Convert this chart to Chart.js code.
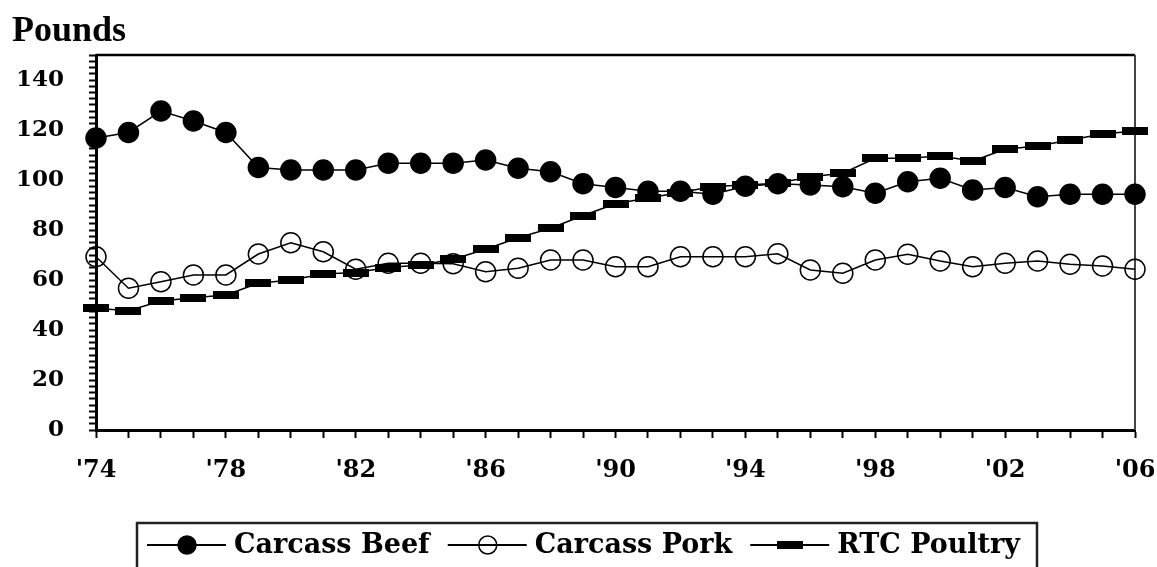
<!DOCTYPE html>
<html>
<head>
<meta charset="utf-8">
<script src="https://cdn.jsdelivr.net/npm/chart.js@4/dist/chart.umd.min.js"></script>
<style>
  html, body { margin: 0; padding: 0; background: #fff; }
  #wrap { width: 1157px; height: 567px; }
</style>
</head>
<body>
<div id="wrap"><canvas id="canvas-1" width="1157" height="567"></canvas></div>
<script>
// per capita supply, pounds
var years = [1974, 1975, 1976, 1977, 1978, 1979, 1980, 1981, 1982, 1983, 1984,
             1985, 1986, 1987, 1988, 1989, 1990, 1991, 1992, 1993, 1994, 1995,
             1996, 1997, 1998, 1999, 2000, 2001, 2002, 2003, 2004, 2005, 2006];
var beef = [116.8, 119, 127.6, 123.6, 119, 105, 104, 104, 104, 106.7, 106.7,
            106.7, 108, 104.7, 103.3, 98.5, 97, 95.5, 95.5, 94.3, 97.5, 98.5,
            98, 97.3, 94.7, 99.3, 100.7, 96, 97, 93.3, 94.3, 94.3, 94.3];
var pork = [69.3, 56.7, 59.3, 62, 62, 70.4, 74.9, 71.3, 64.3, 66.7, 66.7,
            66.5, 63.3, 64.7, 68, 68, 65.3, 65.3, 69.3, 69.3, 69.3, 70.5,
            64, 62.7, 68, 70.3, 67.6, 65.3, 66.7, 67.6, 66.3, 65.6, 64.3];
var poultry = [48.7, 47.7, 51.6, 52.9, 54, 58.7, 60, 62.4, 63, 65, 66,
               68.3, 72.3, 76.9, 80.7, 85.8, 90.5, 92.8, 95, 97.4, 98, 98.7,
               101.3, 102.7, 108.7, 108.7, 109.6, 107.6, 112.3, 113.6, 116, 118.4, 119.6];
var yLabels = [0, 20, 40, 60, 80, 100, 120, 140];

var FONT = '"DejaVu Serif", serif';

// dash marker for poultry
var dash = document.createElement('canvas');
dash.width = 26; dash.height = 8;
var dctx = dash.getContext('2d');
dctx.fillStyle = '#000';
dctx.fillRect(0, 0, 26, 8);

// box round the plot + title
var frame = {
    id: 'frame',
    beforeDatasetsDraw: function (chart) {
        var a = chart.chartArea, c = chart.ctx;
        c.save();
        c.strokeStyle = '#000';
        c.lineWidth = 2.5;
        c.beginPath();
        c.moveTo(a.left, a.top);
        c.lineTo(a.right, a.top);
        c.stroke();
        c.strokeStyle = '#444';
        c.lineWidth = 2;
        c.beginPath();
        c.moveTo(a.right, a.top);
        c.lineTo(a.right, a.bottom);
        c.stroke();
        c.restore();
    },
    afterDraw: function (chart) {
        var c = chart.ctx;
        c.save();
        c.fillStyle = '#000';
        c.font = 'bold 36px "Liberation Serif", serif';
        c.textBaseline = 'alphabetic';
        c.fillText('Pounds', 12, 41);
        c.restore();
    }
};

// legend with a box, line + marker swatches
var boxLegend = {
    id: 'boxLegend',
    afterDraw: function (chart) {
        var c = chart.ctx;
        c.save();
        c.strokeStyle = '#222';
        c.lineWidth = 2.5;
        c.strokeRect(137, 523, 900, 60);
        c.font = 'bold 27px ' + FONT;
        c.textBaseline = 'middle';
        c.fillStyle = '#000';
        var x = 147, y = 545;
        chart.data.datasets.forEach(function (ds) {
            c.strokeStyle = '#000';
            c.lineWidth = 2;
            c.beginPath();
            c.moveTo(x, y);
            c.lineTo(x + 79, y);
            c.stroke();
            var mx = x + 40;
            if (ds.pointStyle === 'circle') {
                c.beginPath();
                c.arc(mx, y, ds.pointRadius - 1, 0, Math.PI * 2);
                c.fillStyle = ds.pointBackgroundColor;
                c.fill();
                c.lineWidth = 1.5;
                c.stroke();
            } else {
                c.drawImage(ds.pointStyle, mx - 13, y - 4);
            }
            c.fillStyle = '#000';
            c.fillText(ds.label, x + 87, y + 1);
            x += 87 + c.measureText(ds.label).width + 18;
        });
        c.restore();
    }
};

var ctx = document.getElementById('canvas-1');
var chart = new Chart(ctx, {
    type: 'line',
    data: {
        labels: years,
        datasets: [
            {
                label: 'Carcass Beef',
                data: beef,
                borderColor: '#000',
                borderWidth: 1.5,
                pointStyle: 'circle',
                pointRadius: 10,
                pointBackgroundColor: '#000',
                pointBorderColor: '#000',
                clip: false
            },
            {
                label: 'Carcass Pork',
                data: pork,
                borderColor: '#000',
                borderWidth: 1.5,
                pointStyle: 'circle',
                pointRadius: 10,
                pointBorderWidth: 1.5,
                pointBackgroundColor: 'rgba(255,255,255,0)',
                pointBorderColor: '#000',
                clip: false
            },
            {
                label: 'RTC Poultry',
                data: poultry,
                borderColor: '#000',
                borderWidth: 1.5,
                pointStyle: dash,
                pointBackgroundColor: '#000',
                clip: false
            }
        ]
    },
    options: {
        responsive: false,
        animation: false,
        devicePixelRatio: 1,
        layout: { padding: { left: 0, right: 22, top: 55, bottom: 77 } },
        plugins: {
            legend: { display: false },
            tooltip: { enabled: false }
        },
        scales: {
            x: {
                offset: false,
                afterFit: function (s) {
                    s.height = 60;
                    s.paddingLeft = 0;
                    s.paddingRight = 0;
                },
                border: { color: '#000', width: 3 },
                grid: {
                    offset: false,
                    drawOnChartArea: false,
                    tickLength: 8,
                    tickColor: '#000',
                    tickWidth: 2
                },
                ticks: {
                    autoSkip: false,
                    maxRotation: 0,
                    padding: 18,
                    color: '#000',
                    font: { family: FONT, weight: 'bold', size: 24 },
                    callback: function (v, i) {
                        var yr = years[i];
                        return (yr - years[0]) % 4 === 0 ? "'" + String(yr).slice(2) : '';
                    }
                }
            },
            y: {
                min: 0,
                max: 150,
                afterFit: function (s) { s.width = 96; },
                border: { color: '#000', width: 3 },
                grid: {
                    drawOnChartArea: false,
                    tickLength: 7,
                    tickColor: '#000',
                    tickWidth: 2
                },
                ticks: {
                    stepSize: 2.5,
                    autoSkip: false,
                    padding: 25,
                    color: '#000',
                    font: { family: FONT, weight: 'bold', size: 23 },
                    callback: function (v) {
                        return yLabels.indexOf(v) >= 0 ? v : '';
                    }
                }
            }
        }
    },
    plugins: [frame, boxLegend]
});
</script>
</body>
</html>
